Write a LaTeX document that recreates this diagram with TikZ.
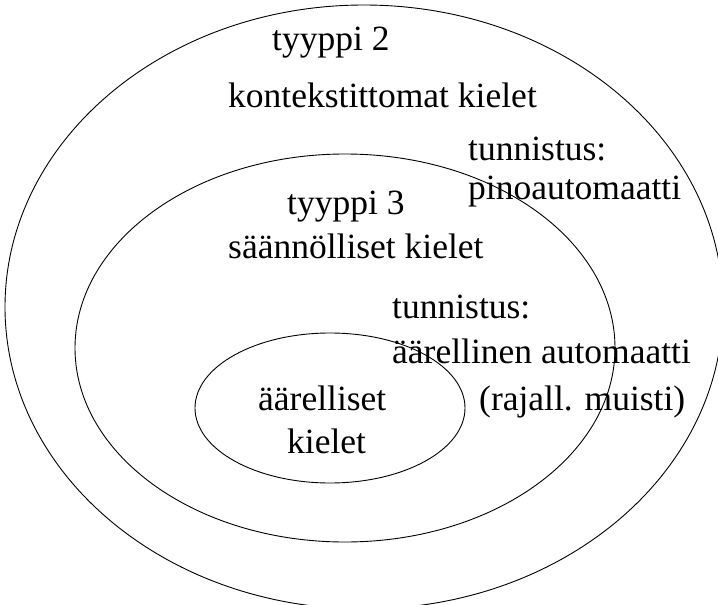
\documentclass[tikz,border=0pt]{standalone}
\usepackage{fontspec}
\setmainfont{Liberation Serif}
\tikzset{
  lang/.style={draw,line width=0.9pt},
  lbl/.style={anchor=base west,inner sep=0pt,font=\fontsize{35.5}{40}\selectfont}
}

\begin{document}
\begin{tikzpicture}[x=1pt,y=-1pt]
  \useasboundingbox (0,0) rectangle (718,605);
  \clip (0,0) rectangle (718,605);

  % nested language classes
  \draw[lang] (364,307) ellipse [x radius=359pt, y radius=302pt];
  \draw[lang] (345,348) ellipse [x radius=270pt, y radius=194pt];
  \draw[lang] (330,408) ellipse [x radius=135pt, y radius=75pt];

  % type 2
  \node[lbl] (t2)   at (272,50)  {tyyppi 2};
  \node[lbl] (cf)   at (228,107) {kontekstittomat kielet};
  \node[lbl] (tn2)  at (468,160) {tunnistus:};
  \node[lbl] (pda)  at (468,199) {pinoautomaatti};

  % type 3
  \node[lbl] (t3)   at (287,214) {tyyppi 3};
  \node[lbl] (reg)  at (228,258) {säännölliset kielet};
  \node[lbl] (tn3)  at (392,318) {tunnistus:};
  \node[lbl] (dfa)  at (392,363) {äärellinen automaatti};
  \node[lbl] (mem)  at (479,410) {(rajall. muisti)};

  % finite
  \node[lbl] (fin1) at (258,410) {äärelliset};
  \node[lbl] (fin2) at (287,453) {kielet};
\end{tikzpicture}
\end{document}
